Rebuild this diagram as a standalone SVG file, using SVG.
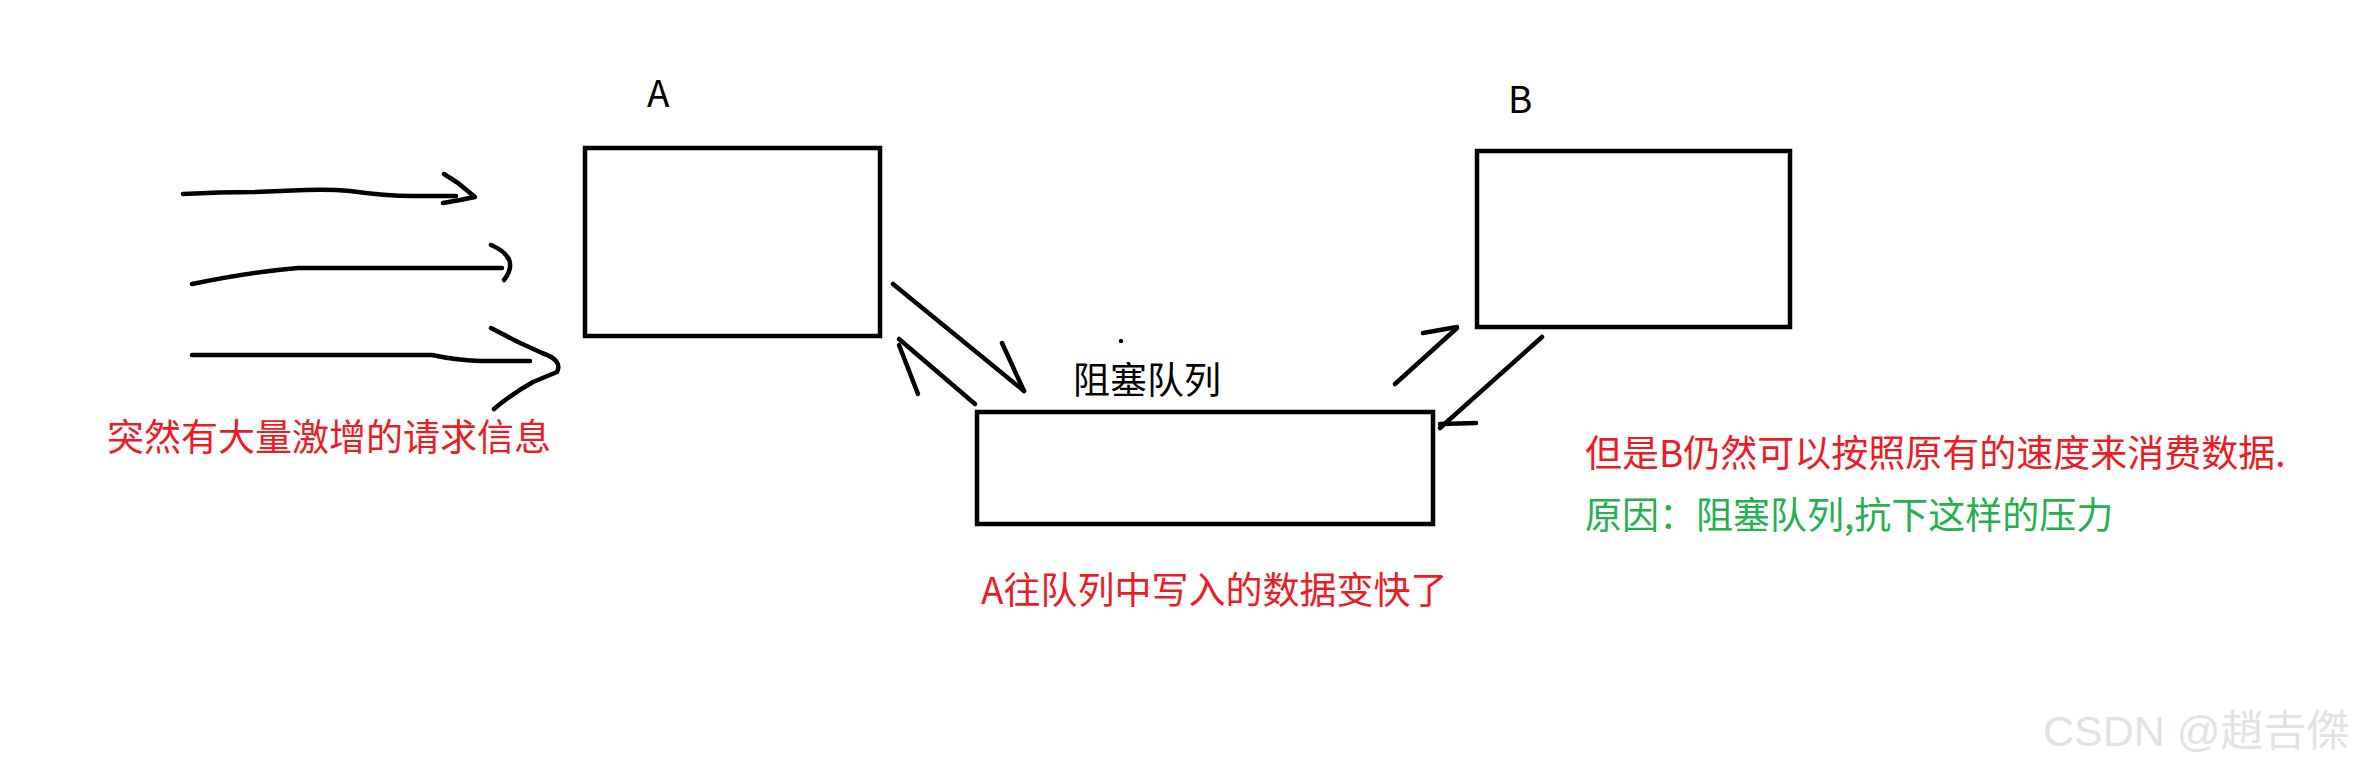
<svg xmlns="http://www.w3.org/2000/svg" width="2357" height="767" viewBox="0 0 2357 767">
<style>
.box{fill:none;stroke:#000;stroke-width:4.5}
.ln{fill:none;stroke:#000;stroke-width:4.5;stroke-linecap:round;stroke-linejoin:round}
.t{font-family:"Noto Sans CJK SC","Noto Sans CJK JP",sans-serif;font-size:37px}
.blk{fill:#000}
.red{fill:#ED1C24}
.grn{fill:#22B14C}
.wm{font-family:"Liberation Sans","Noto Sans CJK TC","Noto Sans CJK JP",sans-serif;font-size:43px;fill:#e2e2e2}
</style>
<rect width="2357" height="767" fill="#fff"/>
<g id="nodeA">
<rect class="box" x="585" y="148" width="295" height="188"/>
<text class="t blk" x="647" y="107">A</text>
</g>
<g id="nodeB">
<rect class="box" x="1477" y="151" width="313" height="176"/>
<text class="t blk" x="1508" y="113">B</text>
</g>
<g id="nodeQueue">
<rect class="box" x="977" y="412" width="456" height="112"/>
<text class="t blk" x="1073" y="394">阻塞队列</text>
<circle cx="1121" cy="341" r="2.2" fill="#000"/>
</g>
<g id="connectors">
<path class="ln" d="M183,194 Q220,192 255,192 L305,190 Q330,189 350,191 Q385,196 413,196 L456,196"/>
<path class="ln" d="M444,174 L458,183 L475,197 L460,200 L443,203"/>
<path class="ln" d="M192,284 Q250,272 298,268 L502,268"/>
<path class="ln" d="M491,245 Q521,258 504,280"/>
<path class="ln" d="M192,355 L432,355 Q455,360 480,361 L530,361"/>
<path class="ln" d="M491,328 L518,342 L542,353 Q563,360 557,372 L533,382 Q510,395 494,409"/>
<path class="ln" d="M893,284 L1024,391"/>
<path class="ln" d="M1002,343 L1024,391"/>
<path class="ln" d="M975,404 L899,339"/>
<path class="ln" d="M899,345 L918,394"/>
<path class="ln" d="M1395,384 L1457,328"/>
<path class="ln" d="M1423,333 L1457,327"/>
<path class="ln" d="M1542,337 L1440,428"/>
<path class="ln" d="M1440,424 L1476,423"/>
</g>
<g id="labels">
<text class="t red" x="107" y="451">突然有大量激增的请求信息</text>
<text class="t red" x="981" y="604">A往队列中写入的数据变快了</text>
<text class="t red" x="1585" y="467">但是B仍然可以按照原有的速度来消费数据.</text>
<text class="t grn" x="1585" y="529">原因：阻塞队列,抗下这样的压力</text>
</g>
<text class="wm" x="2043" y="746">CSDN @趙𠮷傑</text>
</svg>
